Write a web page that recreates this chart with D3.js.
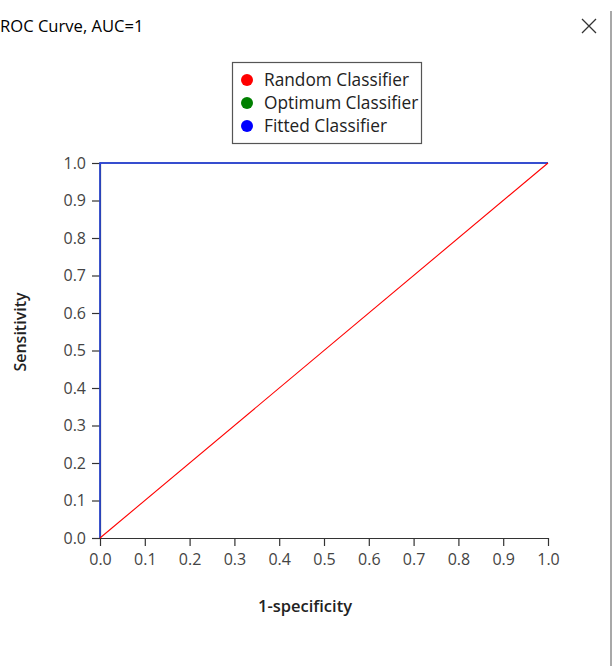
<!DOCTYPE html>
<html><head><meta charset="utf-8">
<script src="https://cdn.jsdelivr.net/npm/d3@7"></script>
<style>body{margin:0;background:#fff;}svg{display:block;}</style>
</head><body>
<svg id="c" width="613" height="666"></svg>
<script>
const title = "ROC Curve, AUC=1";
const xLabel = "1-specificity";
const yLabel = "Sensitivity";
const ticks = [0,0.1,0.2,0.3,0.4,0.5,0.6,0.7,0.8,0.9,1.0];
const seriesNames = ["Random Classifier","Optimum Classifier","Fitted Classifier"];
const seriesColors = ["red","green","blue"];
const randomX = [0,1];
const randomY = [0,1];
const optimumX = [0,0,1];
const optimumY = [0,1,1];
const fittedX = [0,0,1];
const fittedY = [0,1,1];

const svg = d3.select("#c");
const font = "'Open Sans', 'Noto Sans', sans-serif";
const x = d3.scaleLinear().domain([0,1]).range([100,548]);
const y = d3.scaleLinear().domain([0,1]).range([538,163]);

svg.append("text").attr("x",0).attr("y",32).attr("font-family",font).attr("font-size",16.6)
  .attr("fill","#000").text(title);
// close X
svg.append("path").attr("d","M582,19 L596,33 M596,19 L582,33").attr("stroke","#333").attr("stroke-width",1.3);
// right window edge
svg.append("rect").attr("x",610).attr("y",11).attr("width",2).attr("height",655).attr("fill","#a8a8a8");

const fmt = d3.format(".1f");
const gx = svg.append("g").attr("transform","translate(0,538)")
  .call(d3.axisBottom(x).tickValues(ticks).tickFormat(fmt).tickSize(8).tickSizeOuter(0));
const gy = svg.append("g").attr("transform","translate(100,0)")
  .call(d3.axisLeft(y).tickValues(ticks).tickFormat(fmt).tickSize(8).tickSizeOuter(0));
[gx,gy].forEach(g=>{
  g.selectAll("path,line").attr("stroke","#333").attr("stroke-width",1.2);
  g.selectAll("text").attr("font-family",font).attr("font-size",16).attr("fill","#444");
});
gx.selectAll("text").attr("y",27).attr("dy",0);
gy.selectAll("text").attr("x",-14);

const line = d3.line().x(d=>x(d[0])).y(d=>y(d[1]));
const zip = (a,b)=>a.map((v,i)=>[v,b[i]]);
svg.append("path").datum(zip(optimumX,optimumY)).attr("d",line).attr("fill","none").attr("stroke",seriesColors[1]).attr("stroke-width",1.3);
svg.append("path").datum(zip(fittedX,fittedY)).attr("d",line).attr("fill","none").attr("stroke","#3535ff").attr("stroke-width",1.4);
svg.append("path").datum(zip(randomX,randomY)).attr("d",line).attr("fill","none").attr("stroke",seriesColors[0]).attr("stroke-width",1.1);

svg.append("text").attr("x",305).attr("y",612).attr("text-anchor","middle").attr("font-family",font)
  .attr("font-size",16.5).attr("font-weight",600).attr("fill","#222").text(xLabel);
svg.append("text").attr("transform","translate(26,332) rotate(-90)").attr("text-anchor","middle").attr("font-family",font)
  .attr("font-size",16).attr("font-weight",600).attr("fill","#222").text(yLabel);

// legend
const lg = svg.append("g");
lg.append("rect").attr("x",232.5).attr("y",62.5).attr("width",189).attr("height",81).attr("fill","#fff").attr("stroke","#555").attr("stroke-width",1.2);
seriesNames.forEach((n,i)=>{
  lg.append("circle").attr("cx",247).attr("cy",80+i*23).attr("r",6).attr("fill",seriesColors[i]);
  lg.append("text").attr("x",264).attr("y",86+i*23).attr("font-family",font).attr("font-size",17.3).attr("fill","#222").text(n);
});
</script>
</body></html>
